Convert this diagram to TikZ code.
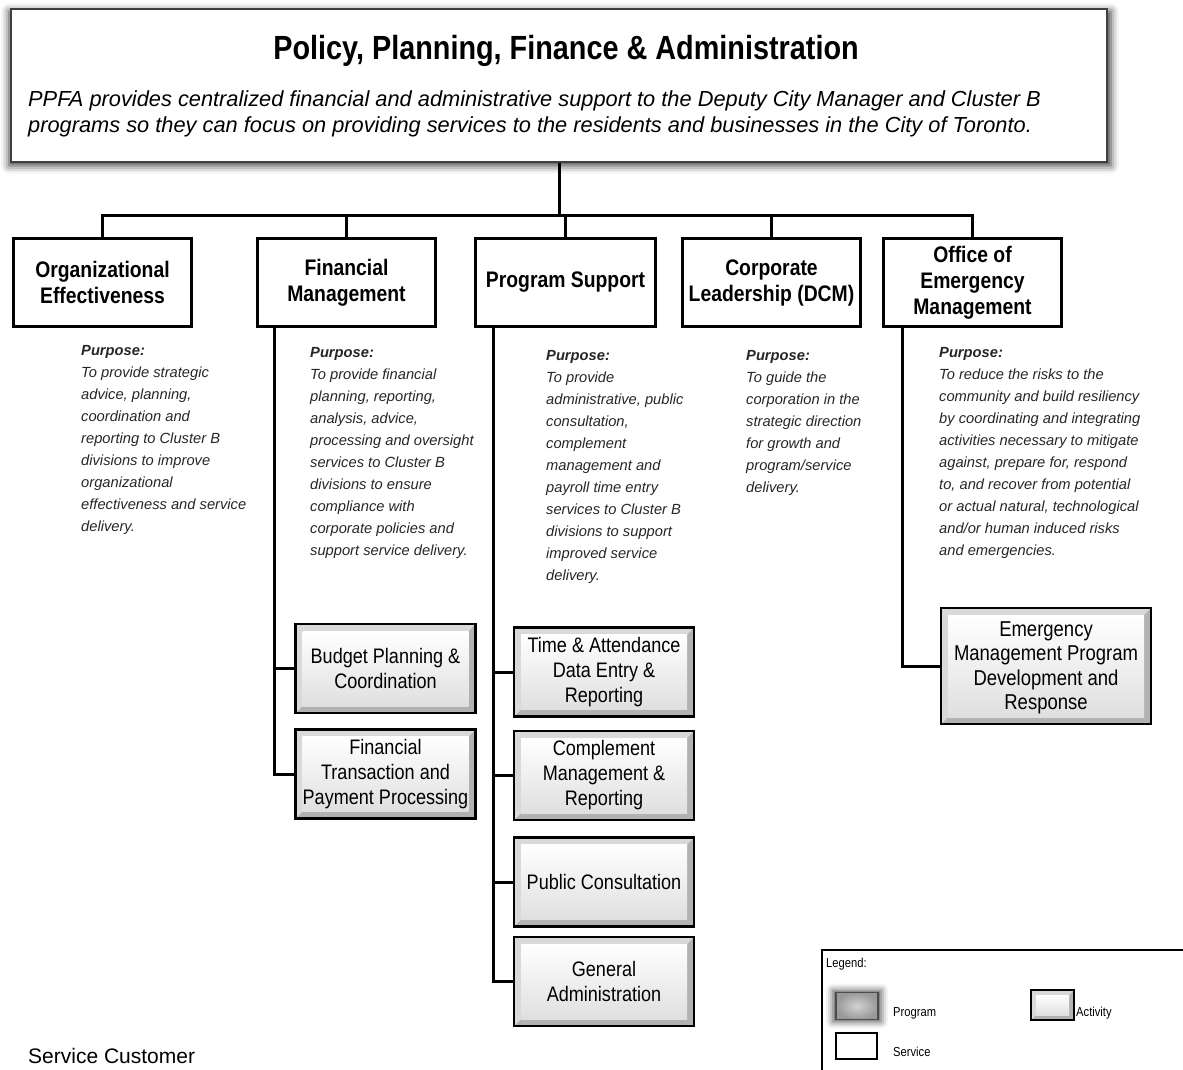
\documentclass[tikz,border=0pt]{standalone}
\usepackage{fontspec}
\setmainfont{Liberation Sans}
\newfontfamily\narrowfont[FakeStretch=0.86]{Liberation Sans}
\usetikzlibrary{positioning, shadows.blur}

\begin{document}
\begin{tikzpicture}[x=1pt, y=-1pt]
  \tikzset{node distance=13pt, bevel/.store in=\bevelwidth, bevel=7pt,
    program/.style={draw=black!75, line width=2pt, fill=white, blur shadow={shadow xshift=1pt, shadow yshift=-3pt, shadow blur radius=8pt, shadow scale=1.005, shadow opacity=80}},
    service/.style={draw, line width=3pt, fill=white, minimum width=178pt, minimum height=88pt, align=center, inner sep=1pt, font=\narrowfont\bfseries\fontsize{22.5}{26}\selectfont},
    activity/.style={draw, line width=2.5pt, fill=gray!60, minimum width=180pt, minimum height=89pt, align=center, inner sep=1pt, font=\narrowfont\fontsize{21}{25}\selectfont,
      path picture={
        \fill[gray!30] (path picture bounding box.south west) -- (path picture bounding box.north west) -- (path picture bounding box.north east) -- ([shift={(-\bevelwidth,-\bevelwidth)}]path picture bounding box.north east) -- ([shift={(\bevelwidth,-\bevelwidth)}]path picture bounding box.north west) -- ([shift={(\bevelwidth,\bevelwidth)}]path picture bounding box.south west) -- cycle;
        \shade[top color=white, bottom color=gray!25] ([shift={(\bevelwidth,-\bevelwidth)}]path picture bounding box.north west) rectangle ([shift={(-\bevelwidth,\bevelwidth)}]path picture bounding box.south east);}},
    purpose/.style={anchor=north west, align=left, inner sep=0pt, text=black!85, font=\itshape\fontsize{14.7}{22}\selectfont},
    legendtext/.style={anchor=base west, inner sep=0pt, font=\narrowfont\fontsize{13}{15}\selectfont},
    conn/.style={line width=3pt}}
  \useasboundingbox (0,0) rectangle (1183,1070);

  \node[program, minimum width=1096pt, minimum height=153pt] (ppfa) at (559,85.5) {};
  \node[anchor=base, inner sep=0pt, font=\narrowfont\bfseries\fontsize{33.5}{38}\selectfont] (title) at (566,60) {Policy, Planning, Finance \& Administration};
  \node[anchor=north west, align=left, inner sep=0pt, font=\itshape\fontsize{21.8}{26}\selectfont] (mandate) at (28,91) {PPFA provides centralized financial and administrative support to the Deputy City Manager and Cluster B\\programs so they can focus on providing services to the residents and businesses in the City of Toronto.};

  \node[service] (oe) at (102.5,282.5) {Organizational\\Effectiveness};
  \node[service] (fm) at (346.5,282.5) {Financial\\Management};
  \node[service, minimum width=180pt] (ps) at (565.5,282.5) {Program Support};
  \node[service] (cl) at (771.5,282.5) {Corporate\\Leadership (DCM)};
  \node[service] (oem) at (972.5,282.5) {Office of\\Emergency\\Management};

  \node[purpose] (oepurpose) at (81,345) {\textbf{Purpose:}\\To provide strategic\\advice, planning,\\coordination and\\reporting to Cluster B\\divisions to improve\\organizational\\effectiveness and service\\delivery.};
  \node[purpose] (fmpurpose) at (310,347) {\textbf{Purpose:}\\To provide financial\\planning, reporting,\\analysis, advice,\\processing and oversight\\services to Cluster B\\divisions to ensure\\compliance with\\corporate policies and\\support service delivery.};
  \node[purpose] (pspurpose) at (546,350) {\textbf{Purpose:}\\To provide\\administrative, public\\consultation,\\complement\\management and\\payroll time entry\\services to Cluster B\\divisions to support\\improved service\\delivery.};
  \node[purpose] (clpurpose) at (746,350) {\textbf{Purpose:}\\To guide the\\corporation in the\\strategic direction\\for growth and\\program/service\\delivery.};
  \node[purpose] (oempurpose) at (939,347) {\textbf{Purpose:}\\To reduce the risks to the\\community and build resiliency\\by coordinating and integrating\\activities necessary to mitigate\\against, prepare for, respond\\to, and recover from potential\\or actual natural, technological\\and/or human induced risks\\and emergencies.};

  \node[activity] (budget) at (385.5,668.5) {Budget Planning \&\\Coordination};
  \node[activity, below=14pt of budget] (fintrans) {Financial\\Transaction and\\Payment Processing};
  \node[activity] (timeatt) at (604,672) {Time \& Attendance\\Data Entry \&\\Reporting};
  \node[activity, below=12pt of timeatt] (complement) {Complement\\Management \&\\Reporting};
  \node[activity, below=15pt of complement] (publiccons) {Public Consultation};
  \node[activity, below=8pt of publiccons] (genadmin) {General\\Administration};
  \node[activity, minimum width=210pt, minimum height=116pt, font=\narrowfont\fontsize{21.5}{24.5}\selectfont, text depth=1pt] (emprog) at (1046,666) {Emergency\\Management Program\\Development and\\Response};

  \coordinate (hub) at (559,215);
  \draw[conn] (ppfa.south) -- (hub);
  \foreach \s in {oe,fm,ps,cl,oem} \draw[conn] (hub) -| (\s.north);
  \coordinate (fmstem) at ([xshift=18pt]fm.south west);
  \foreach \a in {budget,fintrans} \draw[conn] (fmstem) |- (\a.west);
  \coordinate (psstem) at ([xshift=19pt]ps.south west);
  \foreach \a in {timeatt,complement,publiccons,genadmin} \draw[conn] (psstem) |- (\a.west);
  \coordinate (oemstem) at ([xshift=20pt]oem.south west);
  \draw[conn] (oemstem) |- (emprog.west);

  \draw[line width=2pt] (1183,950) -| (822,1070);
  \node[legendtext] (legendtitle) at (826,967) {Legend:};
  \node[draw=black!70, line width=1.5pt, minimum width=42pt, minimum height=27pt, inner color=gray!35, outer color=gray!80, blur shadow={shadow xshift=0pt, shadow yshift=0pt, shadow blur radius=6pt, shadow scale=1.15, shadow opacity=70}] (keyprogram) at (857,1006) {};
  \node[legendtext] (programlabel) at (893,1016) {Program};
  \node[activity, bevel=5pt, line width=1.5pt, minimum width=43pt, minimum height=30pt] (keyactivity) at (1052.5,1005) {};
  \node[legendtext] (activitylabel) at (1076,1016) {Activity};
  \node[draw, line width=2.5pt, minimum width=41pt, minimum height=26pt] (keyservice) at (856.5,1046) {};
  \node[legendtext] (servicelabel) at (893,1056) {Service};

  \node[anchor=base west, inner sep=0pt, font=\fontsize{21}{25}\selectfont] (customer) at (28,1063) {Service Customer};
\end{tikzpicture}
\end{document}
